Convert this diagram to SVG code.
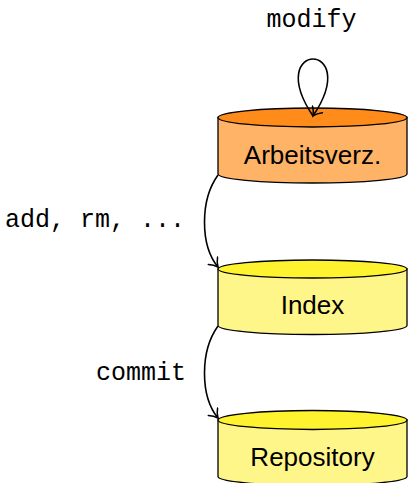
<svg xmlns="http://www.w3.org/2000/svg" width="409" height="483" viewBox="0 0 409 483">
<style>
.body{stroke:#000;stroke-width:1.3}
.lbl{font-family:"Liberation Sans",Arial,sans-serif;font-size:26px;text-anchor:middle;fill:#000}
.mono{font-family:"Liberation Mono","DejaVu Sans Mono",monospace;font-size:25px;fill:#000}
.edge{fill:none;stroke:#000;stroke-width:1.6}
.o-top{fill:#FF8C1A}.o-body{fill:#FFB366}
.y-top{fill:#FFF22E}.y-body{fill:#FFF68A}
</style>
<defs>
<marker id="arr" viewBox="-9 -7 11 14" markerWidth="11" markerHeight="14" refX="0" refY="0" orient="auto" markerUnits="userSpaceOnUse">
<path d="M-8,-6 C-5,-2.5 -1.5,-0.6 0,0 C-1.5,0.6 -5,2.5 -8,6" fill="none" stroke="#000" stroke-width="1.5" stroke-linecap="round"/>
</marker>
</defs>
<g id="arbeitsverz">
<path class="body o-body" d="M218,117.5 V174 A94.5,9 0 0 0 407,174 V117.5 Z"/>
<ellipse class="body o-top" cx="312.5" cy="117.5" rx="94.5" ry="9.5"/>
<text class="lbl" x="312.5" y="163.5">Arbeitsverz.</text>
</g>
<g id="index">
<path class="body y-body" d="M218,269 V325.5 A94.5,9 0 0 0 407,325.5 V269 Z"/>
<ellipse class="body y-top" cx="312.5" cy="269" rx="94.5" ry="9"/>
<text class="lbl" x="312.5" y="314">Index</text>
</g>
<g id="repository">
<path class="body y-body" d="M218,420 V476.5 A94.5,9 0 0 0 407,476.5 V420 Z"/>
<ellipse class="body y-top" cx="312.5" cy="420" rx="94.5" ry="9.5"/>
<text class="lbl" x="312.5" y="466">Repository</text>
</g>
<g id="connectors">
<path class="edge" d="M313,116 C262,40 364,40 313,116" marker-end="url(#arr)"/>
<path class="edge" d="M218,175 C200,200 200,245 218,267" marker-end="url(#arr)"/>
<path class="edge" d="M218,326 C200,351 200,396 218,418" marker-end="url(#arr)"/>
<text class="mono" x="311.5" y="27" text-anchor="middle">modify</text>
<text class="mono" x="5" y="227">add, rm, ...</text>
<text class="mono" x="96" y="380">commit</text>
</g>
</svg>
